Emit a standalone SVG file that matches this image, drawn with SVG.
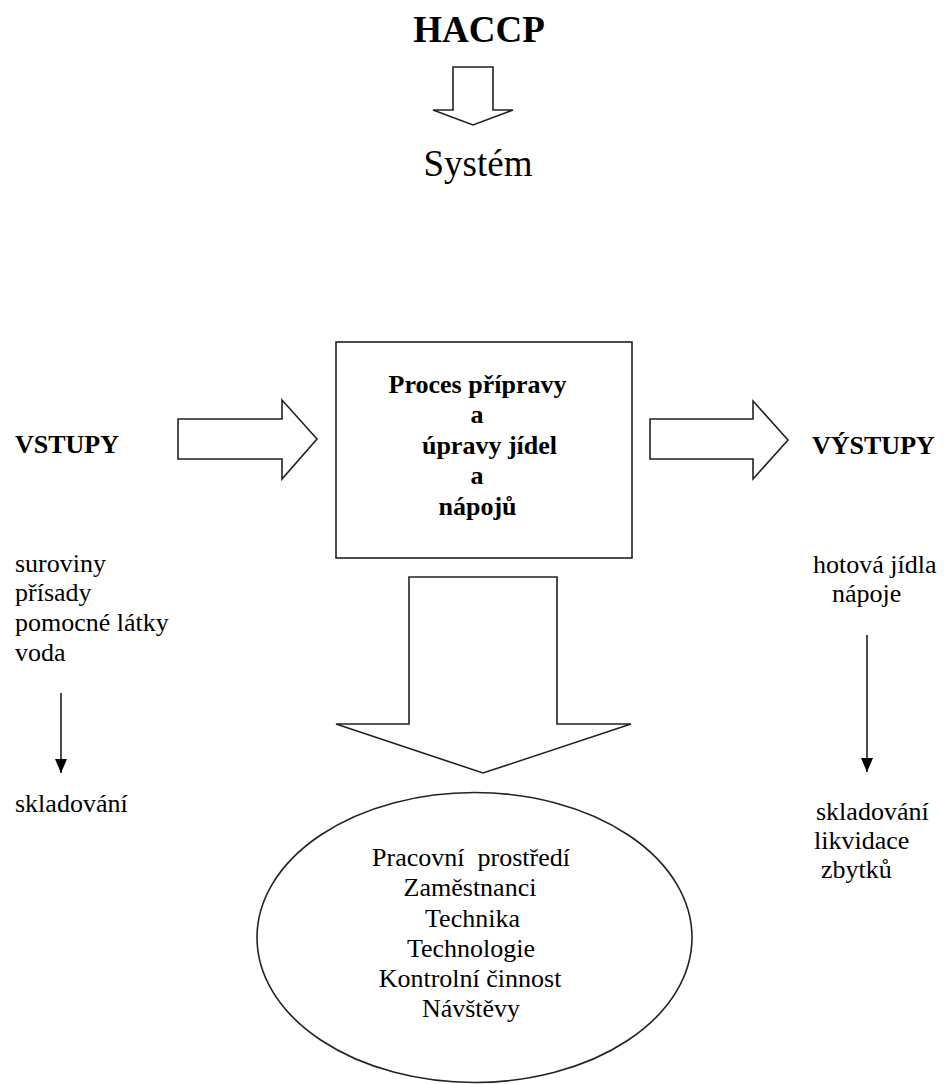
<svg xmlns="http://www.w3.org/2000/svg" width="944" height="1084" viewBox="0 0 944 1084">
<style>
.t{font-family:"Liberation Serif","Times New Roman",serif;font-size:26px;fill:#000;white-space:pre}
.b{font-weight:bold}
.m{text-anchor:middle}
.s{fill:#fff;stroke:#222;stroke-width:1.6;stroke-linejoin:miter}
.ln{stroke:#111;stroke-width:1.5;fill:none}
</style>
<defs>
<marker id="ah" viewBox="0 0 14 12" refX="14" refY="6" markerWidth="14" markerHeight="12" markerUnits="userSpaceOnUse" orient="auto">
<path d="M0,0 L14,6 L0,12 Z" fill="#000"/>
</marker>
</defs>
<rect width="944" height="1084" fill="#fff"/>
<g id="title">
<text class="t b m" x="479" y="42" style="font-size:37px">HACCP</text>
</g>
<g id="system">
<text class="t m" x="478" y="176" style="font-size:37px">Systém</text>
</g>
<g id="process">
<rect class="s" x="336" y="342" width="296" height="216"/>
<text class="t b m" x="477.5" y="393">Proces přípravy</text>
<text class="t b m" x="477" y="423">a</text>
<text class="t b m" x="489.5" y="454">úpravy jídel</text>
<text class="t b m" x="477" y="484">a</text>
<text class="t b m" x="477.5" y="515">nápojů</text>
</g>
<g id="vstupy">
<text class="t b" x="15" y="453">VSTUPY</text>
<text class="t" x="15" y="572">suroviny</text>
<text class="t" x="15" y="601">přísady</text>
<text class="t" x="15" y="631">pomocné látky</text>
<text class="t" x="15" y="661">voda</text>
</g>
<g id="skladovani-left">
<text class="t" x="15" y="812">skladování</text>
</g>
<g id="vystupy">
<text class="t b" x="812" y="454">VÝSTUPY</text>
<text class="t" x="813" y="573">hotová jídla</text>
<text class="t" x="832" y="602">nápoje</text>
</g>
<g id="skladovani-right">
<text class="t" x="816" y="820">skladování</text>
<text class="t" x="814" y="849">likvidace</text>
<text class="t" x="821" y="878">zbytků</text>
</g>
<g id="factors">
<ellipse class="s" cx="474.5" cy="937.5" rx="217.5" ry="145"/>
<text class="t m" x="471" y="866">Pracovní  prostředí</text>
<text class="t m" x="470" y="896">Zaměstnanci</text>
<text class="t m" x="472.5" y="927">Technika</text>
<text class="t m" x="471" y="957">Technologie</text>
<text class="t m" x="470" y="987">Kontrolní činnost</text>
<text class="t m" x="471" y="1017">Návštěvy</text>
</g>
<g id="connectors">
<path class="s" d="M453,67 L493,67 L493,110 L513,110 L473,125 L433,110 L453,110 Z"/>
<path class="s" d="M178,419 L282,419 L282,400 L317,439 L282,479 L282,459 L178,459 Z"/>
<path class="s" d="M650,419 L753,419 L753,401 L788,440 L753,479 L753,459 L650,459 Z"/>
<path class="s" d="M409,577 L557,577 L557,724 L631,724 L483,773 L336,724 L409,724 Z"/>
<line class="ln" x1="61" y1="693" x2="61" y2="773" marker-end="url(#ah)"/>
<line class="ln" x1="867" y1="635" x2="867" y2="772" marker-end="url(#ah)"/>
</g>
</svg>
